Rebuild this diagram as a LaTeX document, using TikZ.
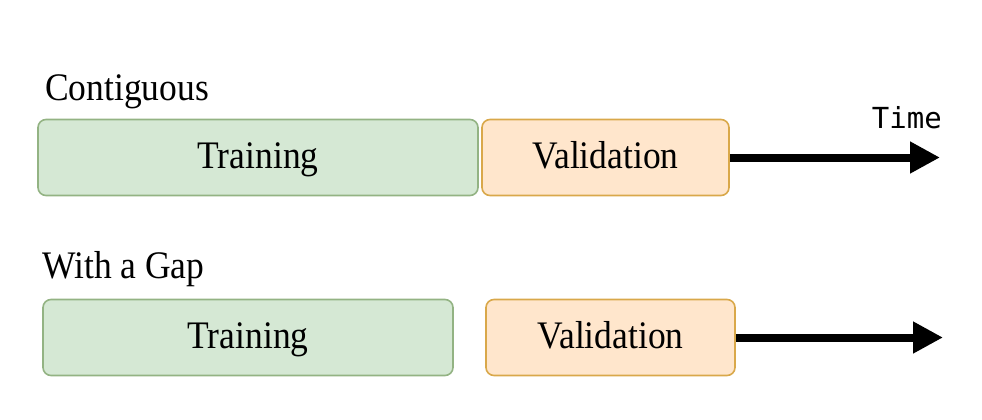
\documentclass[tikz,border=0pt]{standalone}
\usepackage{fontspec}
\setmainfont{Liberation Serif}
\newfontfamily\tnr[FakeStretch=0.91]{Liberation Serif}
\newfontfamily\monof{DejaVu Sans Mono}
\usetikzlibrary{arrows.meta}
\definecolor{gfill}{HTML}{D5E8D4}
\definecolor{gdraw}{HTML}{93B383}
\definecolor{ofill}{HTML}{FFE6CC}
\definecolor{odraw}{HTML}{D9A84A}
\tikzset{
  box/.style={rounded corners=8pt, line width=1.6pt, inner sep=0pt,
    minimum height=76pt, text height=27pt, text depth=6pt,
    font=\tnr\fontsize{39}{44}\selectfont},
  trainbox/.style={box, fill=gfill, draw=gdraw},
  valbox/.style={box, fill=ofill, draw=odraw},
  timearrow/.style={line width=8pt, -{Triangle[length=30pt,width=30pt]}},
  lbl/.style={font=\tnr\fontsize{39}{44}\selectfont, inner sep=0pt, anchor=base west},
}
\begin{document}
\begin{tikzpicture}[x=1pt,y=-1pt]
\useasboundingbox (0,0) rectangle (982,420);
% top row
\node[lbl] (contig) at (45,100) {Contiguous};
\node[trainbox, minimum width=440pt] (t1) at (258,157.5) {Training};
\node[valbox, minimum width=247pt] (v1) at (605.5,157.5) {Validation};
\coordinate (e1) at (940,157.5);
\draw[timearrow] (v1.east) -- (e1);
\node[font=\monof\fontsize{29}{32}\selectfont, inner sep=0pt, anchor=base east] (time) at (942,128) {Time};
% bottom row
\node[lbl] (gap) at (42,278) {With a Gap};
\node[trainbox, minimum width=410pt] (t2) at (248,337.5) {Training};
\node[valbox, minimum width=249pt] (v2) at (610.5,337.5) {Validation};
\coordinate (e2) at (943,337.5);
\draw[timearrow] (v2.east) -- (e2);
\end{tikzpicture}
\end{document}
